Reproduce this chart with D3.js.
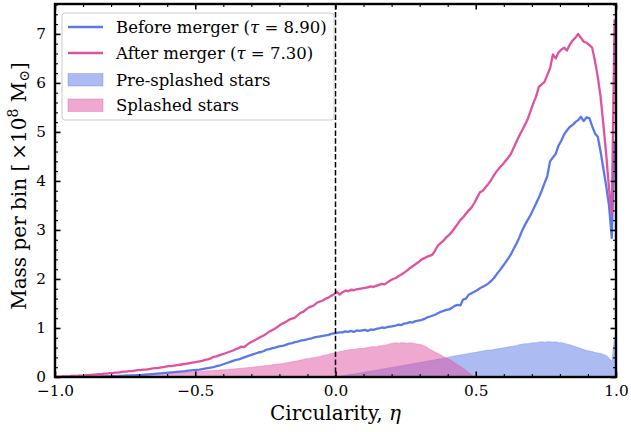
<!DOCTYPE html>
<html>
<head>
<meta charset="utf-8">
<script src="https://cdn.jsdelivr.net/npm/d3@7"></script>
<style>
  body { margin: 0; background: #fff; }
  svg { display: block; }
  text { font-family: "DejaVu Serif", serif; fill: #000; }
</style>
</head>
<body>
<svg id="chart" width="631" height="432"></svg>
<script>
// Circularity histograms: bins of width 0.01 in eta, values in units of 1e8 Msun
const binWidth = 0.01;
const lineStart = -0.995;        // first bin centre of the two line histograms
const splashedStart = -0.995;    // first bin centre of the splashed-star histogram
const preSplashedStart = 0.005;  // first bin centre of the pre-splashed histogram

const afterMerger = [
  0.00,0.00,0.01,0.01,0.01,0.02,0.02,0.02,0.03,0.03,
  0.03,0.04,0.04,0.05,0.05,0.06,0.06,0.07,0.07,0.08,
  0.08,0.09,0.09,0.10,0.11,0.11,0.12,0.12,0.13,0.14,
  0.14,0.15,0.15,0.16,0.17,0.18,0.18,0.19,0.20,0.21,
  0.22,0.22,0.23,0.24,0.25,0.26,0.27,0.28,0.29,0.30,
  0.31,0.32,0.33,0.35,0.36,0.38,0.41,0.42,0.44,0.46,
  0.48,0.50,0.52,0.54,0.57,0.59,0.62,0.61,0.66,0.70,
  0.73,0.76,0.79,0.82,0.85,0.89,0.93,0.96,0.99,1.03,
  1.07,1.10,1.13,1.17,1.19,1.21,1.26,1.31,1.33,1.38,
  1.42,1.44,1.47,1.52,1.54,1.56,1.60,1.62,1.66,1.69,
  1.74,1.68,1.73,1.76,1.75,1.78,1.77,1.79,1.80,1.81,
  1.82,1.83,1.85,1.84,1.86,1.88,1.90,1.89,1.93,1.97,
  2.00,2.02,2.06,2.09,2.13,2.17,2.22,2.26,2.30,2.34,
  2.39,2.42,2.45,2.47,2.49,2.58,2.68,2.73,2.78,2.85,
  2.90,2.96,3.04,3.12,3.20,3.26,3.33,3.40,3.46,3.55,
  3.66,3.77,3.80,3.87,3.94,4.02,4.12,4.20,4.27,4.33,
  4.40,4.47,4.55,4.67,4.80,4.92,5.03,5.14,5.26,5.42,
  5.58,5.72,5.92,5.97,6.02,6.16,6.30,6.58,6.50,6.62,
  6.68,6.72,6.66,6.78,6.86,6.92,7.00,6.92,6.84,6.82,
  6.77,6.72,6.45,6.12,5.72,5.15,4.55,3.85,3.32,7.30
];

const beforeMerger = [
  0.000,0.000,0.000,0.000,0.000,0.000,0.000,0.000,0.000,0.003,
  0.004,0.005,0.006,0.007,0.008,0.009,0.010,0.011,0.012,0.013,
  0.015,0.017,0.019,0.021,0.023,0.026,0.029,0.032,0.035,0.038,
  0.040,0.045,0.050,0.055,0.060,0.065,0.070,0.075,0.080,0.085,
  0.090,0.095,0.100,0.105,0.110,0.115,0.120,0.130,0.135,0.140,
  0.145,0.150,0.160,0.170,0.180,0.190,0.200,0.220,0.230,0.250,
  0.27,0.29,0.31,0.33,0.35,0.36,0.38,0.40,0.42,0.44,
  0.46,0.48,0.50,0.51,0.53,0.56,0.57,0.59,0.60,0.62,
  0.63,0.64,0.66,0.68,0.69,0.71,0.72,0.74,0.75,0.76,
  0.78,0.79,0.81,0.82,0.83,0.84,0.85,0.86,0.88,0.89,
  0.90,0.91,0.91,0.93,0.92,0.94,0.92,0.95,0.94,0.95,
  0.96,0.94,0.97,0.96,0.98,0.99,1.01,1.00,1.02,1.03,
  1.04,1.05,1.07,1.06,1.09,1.10,1.12,1.11,1.14,1.15,
  1.16,1.18,1.21,1.23,1.25,1.27,1.30,1.33,1.35,1.37,
  1.38,1.41,1.45,1.47,1.46,1.58,1.60,1.68,1.71,1.74,
  1.77,1.81,1.84,1.87,1.91,1.96,2.02,2.10,2.17,2.25,
  2.33,2.41,2.50,2.61,2.72,2.84,2.98,3.10,3.20,3.30,
  3.42,3.54,3.66,3.80,3.95,4.10,4.40,4.48,4.55,4.72,
  4.82,4.95,5.03,5.10,5.14,5.20,5.24,5.31,5.22,5.30,
  5.28,5.12,4.97,4.90,4.60,4.25,3.90,3.50,2.84,4.80
];

const splashedStars = [
  0.001,0.002,0.003,0.005,0.006,0.008,0.009,0.011,0.012,0.014,
  0.016,0.018,0.019,0.021,0.023,0.025,0.027,0.029,0.031,0.033,
  0.035,0.037,0.039,0.041,0.043,0.045,0.047,0.049,0.051,0.053,
  0.056,0.058,0.060,0.063,0.065,0.068,0.070,0.073,0.075,0.078,
  0.080,0.083,0.086,0.089,0.092,0.095,0.098,0.101,0.104,0.107,
  0.110,0.114,0.118,0.122,0.126,0.130,0.134,0.138,0.142,0.146,
  0.150,0.155,0.160,0.165,0.170,0.175,0.180,0.185,0.190,0.195,
  0.200,0.207,0.214,0.220,0.228,0.235,0.242,0.250,0.258,0.265,
  0.27,0.28,0.29,0.30,0.31,0.32,0.33,0.345,0.355,0.37,
  0.38,0.39,0.40,0.41,0.42,0.44,0.45,0.46,0.48,0.49,
  0.50,0.52,0.53,0.54,0.55,0.56,0.56,0.57,0.58,0.58,
  0.59,0.60,0.61,0.62,0.61,0.63,0.64,0.65,0.66,0.68,
  0.69,0.70,0.69,0.70,0.70,0.69,0.70,0.69,0.68,0.67,
  0.66,0.64,0.61,0.57,0.54,0.51,0.48,0.45,0.42,0.39,
  0.36,0.33,0.29,0.25,0.22,0.18,0.14,0.09,0.04,0.00
];

const preSplashedStars = [
  0.005,0.015,0.025,0.035,0.045,0.055,0.060,0.070,0.080,0.090,
  0.10,0.11,0.12,0.13,0.14,0.15,0.16,0.17,0.18,0.19,
  0.20,0.21,0.22,0.23,0.24,0.25,0.26,0.27,0.28,0.29,
  0.30,0.31,0.32,0.33,0.34,0.35,0.36,0.37,0.38,0.39,
  0.41,0.42,0.43,0.44,0.45,0.46,0.47,0.48,0.49,0.50,
  0.51,0.52,0.53,0.54,0.55,0.55,0.56,0.57,0.58,0.59,
  0.60,0.61,0.62,0.63,0.64,0.66,0.67,0.68,0.68,0.69,
  0.70,0.70,0.71,0.72,0.71,0.72,0.72,0.71,0.72,0.70,
  0.70,0.69,0.67,0.66,0.64,0.62,0.60,0.58,0.56,0.54,
  0.53,0.52,0.50,0.49,0.48,0.46,0.44,0.39,0.31,0.82
];

const xMajorTicks = [-1, -0.5, 0, 0.5, 1];
const yMajorTicks = [0, 1, 2, 3, 4, 5, 6, 7];

const colorBefore = "#5b78e8";
const colorAfter = "#e0529f";

const svg = d3.select("#chart");
const plot = { left: 55, right: 616, top: 4, bottom: 377 };

const x = d3.scaleLinear().domain([-1, 1]).range([plot.left, plot.right]);
const y = d3.scaleLinear().domain([0, 7.61]).range([plot.bottom, plot.top]);

const toPoints = (vals, start) => vals.map((v, i) => ({ eta: start + i * binWidth, v }));

const area = d3.area().x(d => x(d.eta)).y0(y(0)).y1(d => y(d.v));
const line = d3.line().x(d => x(d.eta)).y(d => y(d.v));

svg.append("defs").append("clipPath").attr("id", "plotClip")
  .append("rect").attr("x", plot.left).attr("y", plot.top)
  .attr("width", plot.right - plot.left).attr("height", plot.bottom - plot.top);

const g = svg.append("g").attr("clip-path", "url(#plotClip)");

// Filled histograms
g.append("path").datum(toPoints(preSplashedStars, preSplashedStart))
  .attr("d", area).attr("fill", colorBefore).attr("fill-opacity", 0.5)
  .attr("stroke", colorBefore).attr("stroke-opacity", 0.35).attr("stroke-width", 1);
g.append("path").datum(toPoints(splashedStars, splashedStart))
  .attr("d", area).attr("fill", colorAfter).attr("fill-opacity", 0.5)
  .attr("stroke", colorAfter).attr("stroke-opacity", 0.35).attr("stroke-width", 1);

// Line histograms
g.append("path").datum(toPoints(beforeMerger, lineStart))
  .attr("d", line).attr("fill", "none").attr("stroke", colorBefore)
  .attr("stroke-width", 2.3).attr("stroke-linejoin", "round");
g.append("path").datum(toPoints(afterMerger, lineStart))
  .attr("d", line).attr("fill", "none").attr("stroke", colorAfter)
  .attr("stroke-width", 2.3).attr("stroke-linejoin", "round");

// Merger reference line at eta = 0
g.append("line")
  .attr("x1", x(0)).attr("x2", x(0)).attr("y1", plot.top).attr("y2", plot.bottom)
  .attr("stroke", "#000").attr("stroke-width", 1.5).attr("stroke-dasharray", "5.5,2.4");

// Legend
const legend = svg.append("g");
legend.append("rect")
  .attr("x", 62).attr("y", 13).attr("width", 272).attr("height", 107)
  .attr("rx", 3).attr("fill", "#fff").attr("fill-opacity", 0.8)
  .attr("stroke", "#cccccc").attr("stroke-width", 1);

const legendItems = [
  { kind: "line", color: colorBefore, label: ["Before merger (", "τ", " = 8.90)"] },
  { kind: "line", color: colorAfter, label: ["After merger (", "τ", " = 7.30)"] },
  { kind: "patch", color: colorBefore, label: ["Pre-splashed stars"] },
  { kind: "patch", color: colorAfter, label: ["Splashed stars"] }
];
const rowY = [27, 53, 79.5, 105];
legendItems.forEach((item, i) => {
  const cy = rowY[i];
  if (item.kind === "line") {
    legend.append("line").attr("x1", 68).attr("x2", 103).attr("y1", cy).attr("y2", cy)
      .attr("stroke", item.color).attr("stroke-width", 2.3);
  } else {
    legend.append("rect").attr("x", 68).attr("y", cy - 6).attr("width", 35).attr("height", 12.5)
      .attr("fill", item.color).attr("fill-opacity", 0.5)
      .attr("stroke", item.color).attr("stroke-opacity", 0.35).attr("stroke-width", 1);
  }
  const t = legend.append("text").attr("x", 116).attr("y", cy + 6).attr("font-size", "16.5px");
  item.label.forEach(part => {
    const ts = t.append("tspan").text(part);
    if (part === "τ") ts.attr("font-style", "italic");
  });
});

// Axes: inward major and minor ticks on all four sides
const fmtX = d3.format(".1f");
const xMinor = d3.range(-10, 11).map(d => d / 10).filter(d => !xMajorTicks.some(m => Math.abs(m - d) < 1e-9));
const yMinor = d3.range(0, 39).map(d => d / 5).filter(d => d % 1 !== 0 && d <= 7.6);

function styleAxis(sel, w) {
  sel.select(".domain").remove();
  sel.selectAll(".tick line").attr("stroke", "#000").attr("stroke-width", w);
  sel.selectAll("text").attr("font-family", "DejaVu Serif").attr("font-size", "15.3px").attr("fill", "#000");
}

const axes = svg.append("g");
axes.append("g").attr("transform", `translate(0,${plot.bottom})`)
  .call(d3.axisBottom(x).tickValues(xMajorTicks).tickSize(-5.5).tickPadding(8).tickFormat(fmtX))
  .call(s => styleAxis(s, 1.6));
axes.append("g").attr("transform", `translate(0,${plot.bottom})`)
  .call(d3.axisBottom(x).tickValues(xMinor).tickSize(-3).tickFormat(""))
  .call(s => styleAxis(s, 1.1));
axes.append("g").attr("transform", `translate(0,${plot.top})`)
  .call(d3.axisTop(x).tickValues(xMajorTicks).tickSize(-5.5).tickFormat(""))
  .call(s => styleAxis(s, 1.6));
axes.append("g").attr("transform", `translate(0,${plot.top})`)
  .call(d3.axisTop(x).tickValues(xMinor).tickSize(-3).tickFormat(""))
  .call(s => styleAxis(s, 1.1));
axes.append("g").attr("transform", `translate(${plot.left},0)`)
  .call(d3.axisLeft(y).tickValues(yMajorTicks).tickSize(-5.5).tickPadding(9).tickFormat(d3.format("d")))
  .call(s => styleAxis(s, 1.6));
axes.append("g").attr("transform", `translate(${plot.left},0)`)
  .call(d3.axisLeft(y).tickValues(yMinor).tickSize(-3).tickFormat(""))
  .call(s => styleAxis(s, 1.1));
axes.append("g").attr("transform", `translate(${plot.right},0)`)
  .call(d3.axisRight(y).tickValues(yMajorTicks).tickSize(-5.5).tickFormat(""))
  .call(s => styleAxis(s, 1.6));
axes.append("g").attr("transform", `translate(${plot.right},0)`)
  .call(d3.axisRight(y).tickValues(yMinor).tickSize(-3).tickFormat(""))
  .call(s => styleAxis(s, 1.1));

// Frame
svg.append("rect")
  .attr("x", plot.left).attr("y", plot.top)
  .attr("width", plot.right - plot.left).attr("height", plot.bottom - plot.top)
  .attr("fill", "none").attr("stroke", "#000").attr("stroke-width", 2.4);

// Axis labels
const xl = svg.append("text").attr("x", (plot.left + plot.right) / 2).attr("y", 420)
  .attr("text-anchor", "middle").attr("font-size", "20px");
xl.append("tspan").text("Circularity, ");
xl.append("tspan").attr("font-style", "italic").text("η");

const yl = svg.append("text")
  .attr("transform", `translate(26,186) rotate(-90)`)
  .attr("text-anchor", "middle").attr("font-size", "20px");
yl.append("tspan").text("Mass per bin [\u2009×10");
yl.append("tspan").attr("font-size", "14px").attr("dy", -8).text("8");
yl.append("tspan").attr("dy", 8).text(" M");
yl.append("tspan").attr("font-size", "14px").attr("dy", 3).text("⊙");
yl.append("tspan").attr("dy", -3).text("]");
</script>
</body>
</html>
